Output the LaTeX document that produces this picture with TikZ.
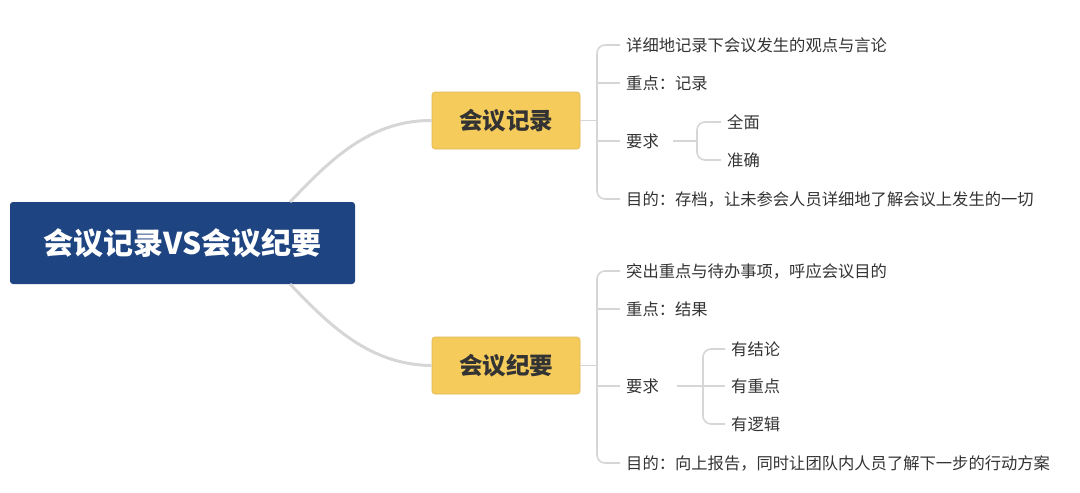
\documentclass[tikz,border=0pt]{standalone}
\usepackage{fontspec}
\setmainfont{Noto Sans CJK SC}
\definecolor{rootc}{HTML}{1F4482}
\definecolor{yel}{HTML}{F5CB5C}
\definecolor{ln}{HTML}{D6D6D6}
\definecolor{txt}{HTML}{333333}
\tikzset{
 leaf/.style={anchor=west,inner sep=0pt,font=\fontsize{16.3}{16.3}\selectfont,text=txt},
 yb/.style={fill=yel,draw=yel!90!black,line width=0.6pt,rounded corners=3pt,minimum width=148pt,minimum height=57pt,font=\fontsize{23.5}{23.5}\selectfont\bfseries,text=txt},
 thick line/.style={draw=ln,line width=3pt},
 thin line/.style={draw=ln,line width=1.6pt,rounded corners=8pt}
}
\begin{document}
\begin{tikzpicture}[x=1pt,y=-1pt]
\useasboundingbox (0,0) rectangle (1080,493);
\node[fill=rootc,rounded corners=3pt,minimum width=345pt,minimum height=82pt,text=white,font=\fontsize{30}{30}\selectfont\bfseries] (root) at (182.5,243) {会议记录VS会议纪要};
\node[yb] (a) at (506,120.5) {会议记录};
\node[yb] (b) at (506,365.5) {会议纪要};
\coordinate (rt) at (290,202);
\coordinate (rb) at (290,284);
\draw[thick line] (rt) .. controls (330,160) and (370,120) .. (a.west);
\draw[thick line] (rb) .. controls (330,326) and (370,365) .. (b.west);
% branch a
\node[leaf] (a1) at (626,45) {详细地记录下会议发生的观点与言论};
\node[leaf] (a2) at (626,83) {重点：记录};
\node[leaf] (a3) at (626,141) {要求};
\node[leaf] (a4) at (626,199) {目的：存档，让未参会人员详细地了解会议上发生的一切};
\node[leaf] (a31) at (727,122) {全面};
\node[leaf] (a32) at (727,160) {准确};
\draw[thin line] (a.east) -- (597,120.5);
\draw[thin line] (a1.west)++(-6,0) -| (597,199) -- ([xshift=-6pt]a4.west);
\draw[thin line] (597,83) -- ([xshift=-6pt]a2.west);
\draw[thin line] (597,141) -- ([xshift=-6pt]a3.west);
\draw[thin line] ([xshift=14pt]a3.east) -- (697,141);
\draw[thin line] ([xshift=-6pt]a31.west) -| (697,160) -- ([xshift=-6pt]a32.west);
% branch b
\node[leaf] (b1) at (626,271) {突出重点与待办事项，呼应会议目的};
\node[leaf] (b2) at (626,309) {重点：结果};
\node[leaf] (b3) at (626,386) {要求};
\node[leaf] (b4) at (626,463) {目的：向上报告，同时让团队内人员了解下一步的行动方案};
\node[leaf] (b31) at (731,349) {有结论};
\node[leaf] (b32) at (731,386) {有重点};
\node[leaf] (b33) at (731,424) {有逻辑};
\draw[thin line] (b.east) -- (597,365.5);
\draw[thin line] (b1.west)++(-6,0) -| (597,463) -- ([xshift=-6pt]b4.west);
\draw[thin line] (597,309) -- ([xshift=-6pt]b2.west);
\draw[thin line] (597,386) -- ([xshift=-6pt]b3.west);
\draw[thin line] ([xshift=18pt]b3.east) -- (703,386) -- ([xshift=-6pt]b32.west);
\draw[thin line] ([xshift=-6pt]b31.west) -| (703,424) -- ([xshift=-6pt]b33.west);
\end{tikzpicture}
\end{document}
